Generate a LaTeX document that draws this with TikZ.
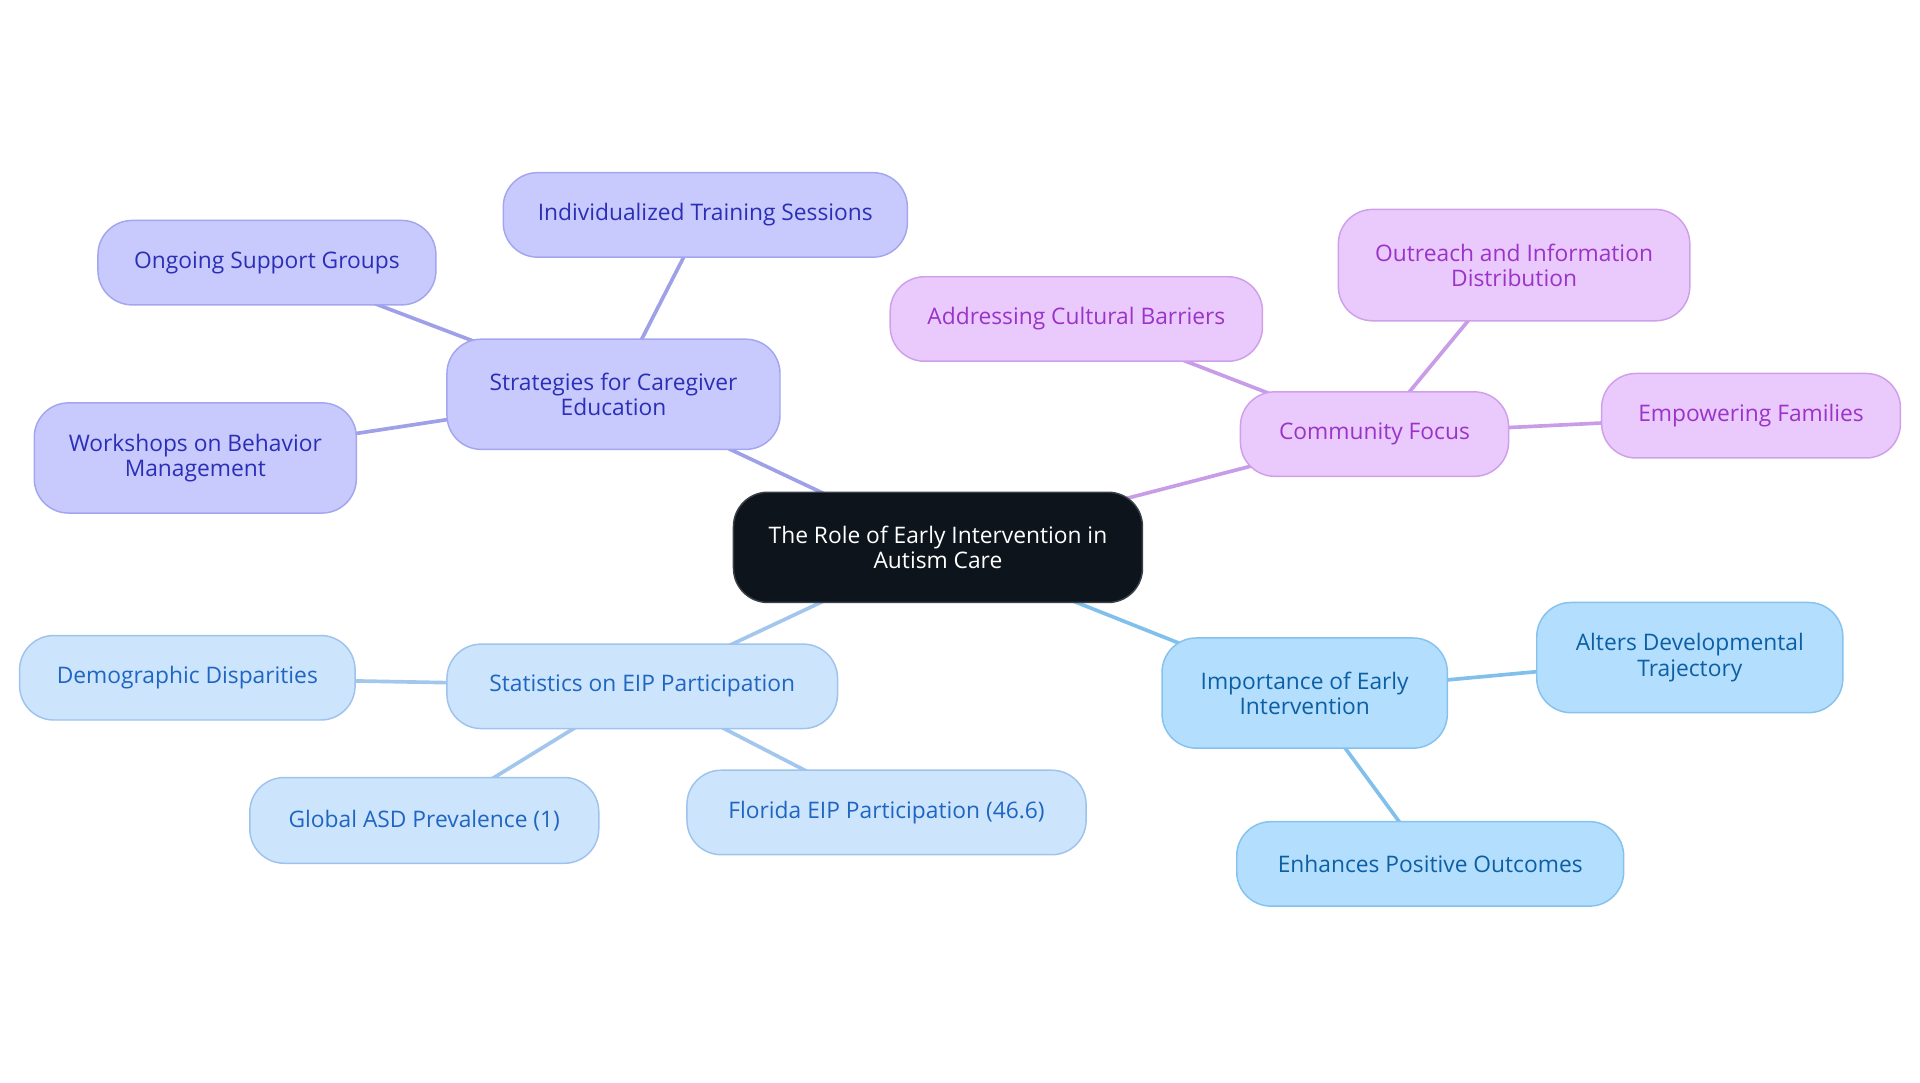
\documentclass[tikz,border=0pt]{standalone}
\usepackage{fontspec}
\setmainfont{Open Sans}
\usetikzlibrary{backgrounds}
\definecolor{rootfill}{HTML}{0D141B}
\definecolor{rootdraw}{HTML}{3A4048}
\definecolor{afill}{HTML}{C8CAFD}
\definecolor{adraw}{HTML}{A3A6EE}
\definecolor{atext}{HTML}{2B2FB5}
\definecolor{aline}{HTML}{9EA0E8}
\definecolor{bfill}{HTML}{EAC9FC}
\definecolor{bdraw}{HTML}{CFA0EA}
\definecolor{btext}{HTML}{9A34C8}
\definecolor{bline}{HTML}{C99CE8}
\definecolor{cfill}{HTML}{CDE4FD}
\definecolor{cdraw}{HTML}{9EC3EC}
\definecolor{ctext}{HTML}{1F66C1}
\definecolor{cline}{HTML}{A2C6EC}
\definecolor{dfill}{HTML}{B3DEFD}
\definecolor{ddraw}{HTML}{85C2EE}
\definecolor{dtext}{HTML}{0D5FA3}
\definecolor{dline}{HTML}{80C0EA}
\begin{document}
\begin{tikzpicture}[x=1pt,y=-1pt,
  box/.style={rounded corners=28pt, line width=1.2pt, align=center, inner sep=0pt,
    font=\fontsize{18.6}{20.5}\selectfont},
  sz/.style 2 args={minimum width=#1pt, minimum height=#2pt},
  grpa/.style={box, fill=afill, draw=adraw, text=atext},
  grpb/.style={box, fill=bfill, draw=bdraw, text=btext},
  grpc/.style={box, fill=cfill, draw=cdraw, text=ctext},
  grpd/.style={box, fill=dfill, draw=ddraw, text=dtext},
  link/.style={line width=3pt}
]
\useasboundingbox (0,0) rectangle (1568,884.4);
\node[box, fill=rootfill, draw=rootdraw, text=white, sz={334}{90}] (root) at (766,447) {The Role of Early Intervention in\\Autism Care};
\node[grpa, sz={272}{90}] (s) at (501,322) {Strategies for Caregiver\\Education};
\node[grpa, sz={330}{69}] (s1) at (576,175.5) {Individualized Training Sessions};
\node[grpa, sz={276}{69}] (s2) at (218,214.5) {Ongoing Support Groups};
\node[grpa, sz={263}{90}] (s3) at (159.5,374) {Workshops on Behavior\\Management};
\node[grpb, sz={219}{69}] (c) at (1122.5,354.5) {Community Focus};
\node[grpb, sz={304}{69}] (c1) at (879,260.5) {Addressing Cultural Barriers};
\node[grpb, sz={287}{91}] (c2) at (1236.5,216.5) {Outreach and Information\\Distribution};
\node[grpb, sz={244}{69}] (c3) at (1430,339.5) {Empowering Families};
\node[grpc, sz={319}{69}] (t) at (524.5,560.5) {Statistics on EIP Participation};
\node[grpc, sz={274}{69}] (t1) at (153,553.5) {Demographic Disparities};
\node[grpc, sz={285}{70}] (t2) at (346.5,670) {Global ASD Prevalence (1)};
\node[grpc, sz={326}{69}] (t3) at (724,663.5) {Florida EIP Participation (46.6)};
\node[grpd, sz={233}{90}] (i) at (1065.5,566) {Importance of Early\\Intervention};
\node[grpd, sz={250}{90}] (i1) at (1380,537) {Alters Developmental\\Trajectory};
\node[grpd, sz={316}{69}] (i2) at (1168,705.5) {Enhances Positive Outcomes};
\begin{pgfonlayer}{background}
\draw[link, aline] (root.center) -- (s.center);
\draw[link, aline] (s.center) -- (s1.center);
\draw[link, aline] (s.center) -- (s2.center);
\draw[link, aline] (s.center) -- (s3.center);
\draw[link, bline] (root.center) -- (c.center);
\draw[link, bline] (c.center) -- (c1.center);
\draw[link, bline] (c.center) -- (c2.center);
\draw[link, bline] (c.center) -- (c3.center);
\draw[link, cline] (root.center) -- (t.center);
\draw[link, cline] (t.center) -- (t1.center);
\draw[link, cline] (t.center) -- (t2.center);
\draw[link, cline] (t.center) -- (t3.center);
\draw[link, dline] (root.center) -- (i.center);
\draw[link, dline] (i.center) -- (i1.center);
\draw[link, dline] (i.center) -- (i2.center);
\end{pgfonlayer}
\end{tikzpicture}
\end{document}
